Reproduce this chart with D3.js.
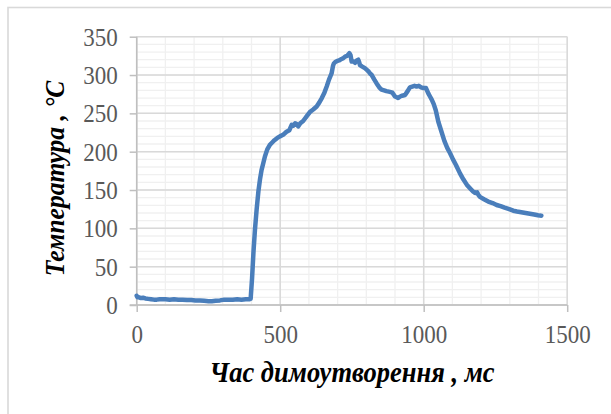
<!DOCTYPE html>
<html><head><meta charset="utf-8">
<script src="https://cdn.jsdelivr.net/npm/d3@7"></script>
<style>body{margin:0;background:#fff}
.tick text{transform-box:fill-box;transform-origin:center;transform:scale(1,1.13)}</style>
</head><body><svg id="c" width="611" height="414"></svg>
<script>
const time = [0,3,8,15,22,30,40,50,60,70,80,90,100,115,130,145,160,175,190,205,220,235,250,262,275,290,305,320,335,350,365,380,392,397,402,407,412,418,424,430,435,441,447,455,464,472,480,490,499,510,522,532,540,546,552,557,563,570,580,592,604,615,627,636,645,654,662,670,679,684,687,692,697,705,714,720,726,733,741,745,749,755,761,767,772,775,778,786,795,801,807,813,819,828,836,845,853,862,870,882,891,900,906,911,918,925,935,944,952,960,968,975,983,991,999,1008,1016,1022,1028,1035,1042,1051,1062,1072,1082,1092,1102,1112,1126,1138,1150,1162,1172,1179,1186,1190,1196,1210,1225,1240,1254,1268,1282,1298,1312,1325,1340,1355,1370,1385,1398,1405,1410];
const temp = [12,10,10,9,9.5,8.5,8,7.5,7,7,7.5,7.5,7.5,7,7.5,7,7,6.5,6.5,6,6,5.5,5,5,5.5,6,7,7,7,7.5,7,7.5,7.5,8,35,70,98,125,148,165,176,185,194,203,209,212,215,218,220,222,226,228,235,234,237,236,233,237,240,246,252,255,259,264,270,277,285,294,302,312,315,317,318,319,321,322,324,325,328.5,326,317.6,318,316,319,320,317,313,311,309,307,305,302,300,294,289,284,281,280,279,278,277,272,271,270,272,273,274,279,284,285,286,285,286,284,283,283,276,272,268,262,254,239,226,214,205,198,190,183,172,164,157,152,148,146,147,144,141,138,135,133,130.5,129,127,125,123,122,121,120,119,118,117,116.6,116.5];
const xTicks = [0,500,1000,1500];
const yTicks = [0,50,100,150,200,250,300,350];
const xTitle = "Час димоутворення , мс";
const yTitle = "Температура , °C";

const svg = d3.select("#c");
svg.append("rect").attr("width",611).attr("height",414).attr("fill","#fff");
svg.append("rect").attr("x",8).attr("y",7.5).attr("width",640).attr("height",440)
  .attr("fill","none").attr("stroke","#d9d9d9").attr("stroke-width",1.6);

const x = d3.scaleLinear().domain([0,1500]).range([136.7,567.2]);
const y = d3.scaleLinear().domain([0,350]).range([305,36.7]);

const minorX = d3.range(0,1501,100), minorY = d3.range(0,351,10);
const g = svg.append("g");
g.selectAll(".mx").data(minorX).join("line").attr("x1",d=>x(d)).attr("x2",d=>x(d))
  .attr("y1",y(350)).attr("y2",y(0)).attr("stroke","#f0f0f0").attr("stroke-width",1.3);
g.selectAll(".my").data(minorY).join("line").attr("y1",d=>y(d)).attr("y2",d=>y(d))
  .attr("x1",x(0)).attr("x2",x(1500)).attr("stroke","#f0f0f0").attr("stroke-width",1.3);
g.selectAll(".Mx").data(xTicks).join("line").attr("x1",d=>x(d)).attr("x2",d=>x(d))
  .attr("y1",y(350)).attr("y2",y(0)).attr("stroke","#d9d9d9").attr("stroke-width",1.5);
g.selectAll(".My").data(yTicks).join("line").attr("y1",d=>y(d)).attr("y2",d=>y(d))
  .attr("x1",x(0)).attr("x2",x(1500)).attr("stroke","#d9d9d9").attr("stroke-width",1.5);

const fontTick = "'Liberation Serif','Times New Roman',serif";
const ax = svg.append("g").attr("transform",`translate(0,${y(0)})`)
  .call(d3.axisBottom(x).tickValues(xTicks).tickFormat(d3.format("d")).tickSize(7).tickPadding(12));
const ay = svg.append("g").attr("transform",`translate(${x(0)},0)`)
  .call(d3.axisLeft(y).tickValues(yTicks).tickFormat(d3.format("d")).tickSize(7).tickPadding(12));
[ax,ay].forEach(a=>{
  a.select(".domain").attr("stroke","#bfbfbf").attr("stroke-width",1.5);
  a.selectAll(".tick line").attr("stroke","#bfbfbf").attr("stroke-width",1.5);
  a.selectAll(".tick text").attr("fill","#595959").style("font-family",fontTick).style("font-size","23px");
});
ax.selectAll(".tick text").attr("y",36.5).attr("dy",0);
ax.select(".domain").attr("d",`M${x(0)-7},0H${x(1500)}`);
ay.select(".domain").attr("d",`M0,${y(350)}V${y(0)}`);

const line = d3.line().x((d,i)=>x(time[i])).y(d=>y(d));
svg.append("path").datum(temp).attr("d",line).attr("fill","none")
  .attr("stroke","#4a7ebb").attr("stroke-width",4.5).attr("stroke-linejoin","round").attr("stroke-linecap","round");

svg.append("text").attr("transform","translate(352,382) scale(1,1.08)").attr("text-anchor","middle")
  .style("font-family",fontTick).style("font-size","26.5px").style("font-weight","bold").style("font-style","italic")
  .text(xTitle);
svg.append("text").attr("transform","translate(64,178.5) rotate(-90) scale(1,1.08)").attr("text-anchor","middle")
  .style("font-family",fontTick).style("font-size","25.5px").style("font-weight","bold").style("font-style","italic")
  .text(yTitle);
</script></body></html>
